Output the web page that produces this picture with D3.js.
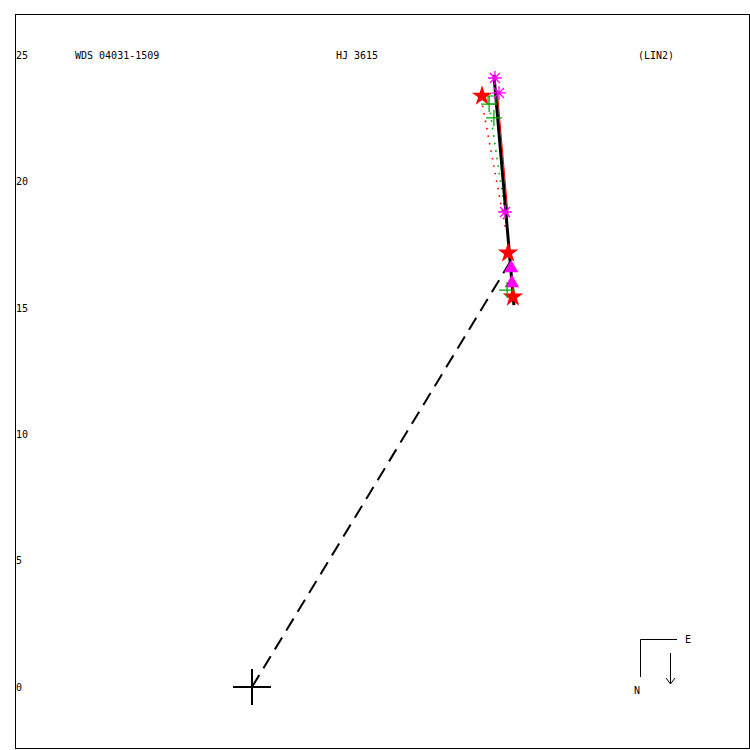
<!DOCTYPE html>
<html><head><meta charset="utf-8">
<script src="https://cdn.jsdelivr.net/npm/d3@7/dist/d3.min.js"></script>
<style>body{margin:0;background:#fff}svg{display:block}text{font-family:"DejaVu Sans Mono",monospace;font-size:10px;fill:#000}</style>
</head><body><svg id="c" width="750" height="750"></svg>
<script>
// Data (plot units)
const yTicks = [0, 5, 10, 15, 20, 25];
const titleLeft = "WDS 04031-1509";
const titleMid = "HJ 3615";
const titleRight = "(LIN2)";
const asterisks = [[9.61, 24.09], [9.77, 23.50], [10.01, 18.79]];
const redStars = [[9.10, 23.38], [10.13, 17.17], [10.32, 15.43]];
const greenPlus = [[9.38, 23.06], [9.57, 22.51], [10.09, 15.70]];
const greenSquares = [[9.49, 23.22]];
const triangles = [[10.25, 16.57], [10.28, 15.98]];
const fitLine = [[9.57, 24.21], [10.36, 15.11]];
const closest = [[0, 0], [10.21, 16.81]];
const redResid = [[9.12, 23.0], [10.05, 18.0]];
const greenResid = [[9.40, 22.9], [10.12, 18.0]];
const redSolid = [[9.623, 23.6], [10.057, 18.6]];

const svg = d3.select("#c");
const unit = (687 - 55) / 25;
const x = d3.scaleLinear().domain([0, 1]).range([252, 252 + unit]);
const y = d3.scaleLinear().domain([0, 25]).range([687, 55]);
const line = d3.line().x(d => x(d[0])).y(d => y(d[1]));

svg.append("rect").attr("x", 15.5).attr("y", 14.5).attr("width", 734).attr("height", 734)
  .attr("fill", "none").attr("stroke", "#000").attr("stroke-width", 1);

const ax = svg.append("g").attr("transform", "translate(15,0)")
  .call(d3.axisRight(y).tickValues(yTicks).tickSize(0).tickPadding(1));
ax.select(".domain").remove();
ax.selectAll("text").attr("fill", "#000").style("font-family", '"DejaVu Sans Mono",monospace').style("font-size", "10px");

svg.append("text").attr("x", 75).attr("y", 59).text(titleLeft);
svg.append("text").attr("x", 336).attr("y", 59).text(titleMid);
svg.append("text").attr("x", 638).attr("y", 59).text(titleRight);

// origin cross
svg.append("path").attr("d", `M${x(0)-19},${y(0)}H${x(0)+19}M${x(0)},${y(0)-18}V${y(0)+18}`)
  .attr("stroke", "#000").attr("stroke-width", 2).attr("fill", "none");

// dashed closest approach
svg.append("path").attr("d", line(closest)).attr("stroke", "#000").attr("stroke-width", 2)
  .attr("stroke-dasharray", "14,8").attr("fill", "none");

// residual dotted lines
svg.append("path").attr("d", line(redResid)).attr("stroke", "red").attr("stroke-width", 1.6)
  .attr("stroke-dasharray", "1.6,6").attr("fill", "none");
svg.append("path").attr("d", line(greenResid)).attr("stroke", "#0a0").attr("stroke-width", 1.6)
  .attr("stroke-dasharray", "1.6,6").attr("stroke-dashoffset", 3).attr("fill", "none");

// red thin line
svg.append("path").attr("d", line(redSolid)).attr("stroke", "red").attr("stroke-width", 1)
  .attr("transform", "translate(2,0)").attr("fill", "none");

// fit line
svg.append("path").attr("d", line(fitLine)).attr("stroke", "#000").attr("stroke-width", 3).attr("fill", "none");

// markers
svg.selectAll(".tri").data(triangles).join("path")
  .attr("d", d3.symbol(d3.symbolTriangle, 90)())
  .attr("transform", d => `translate(${x(d[0])},${y(d[1])})`).attr("fill", "#f0f");
svg.selectAll(".st").data(redStars).join("path")
  .attr("d", d3.symbol(d3.symbolStar, 130)())
  .attr("transform", d => `translate(${x(d[0])},${y(d[1])})`).attr("fill", "red");
svg.selectAll(".gp").data(greenPlus).join("path")
  .attr("d", "M-8,0H8M0,-8V8")
  .attr("transform", d => `translate(${x(d[0])},${y(d[1])})`).attr("stroke", "#0a0").attr("stroke-width", 1.3).attr("fill", "none");
svg.selectAll(".gs").data(greenSquares).join("rect")
  .attr("x", d => x(d[0]) - 4).attr("y", d => y(d[1]) - 4).attr("width", 8).attr("height", 8)
  .attr("stroke", "#0a0").attr("fill", "none");
svg.selectAll(".as").data(asterisks).join("path")
  .attr("d", "M-7,0H7M0,-7V7M-5,-5L5,5M-5,5L5,-5")
  .attr("transform", d => `translate(${x(d[0])},${y(d[1])})`).attr("stroke", "#f0f").attr("stroke-width", 1.3).attr("fill", "none");

// compass
const cg = svg.append("g");
cg.append("path").attr("d", "M640.5,677V639.5H677").attr("stroke", "#000").attr("fill", "none");
cg.append("path").attr("d", "M670.5,653V683M666,678L670.5,684L675,678").attr("stroke", "#000").attr("fill", "none");
cg.append("text").attr("x", 685).attr("y", 643).text("E");
cg.append("text").attr("x", 634).attr("y", 694).text("N");
</script></body></html>
